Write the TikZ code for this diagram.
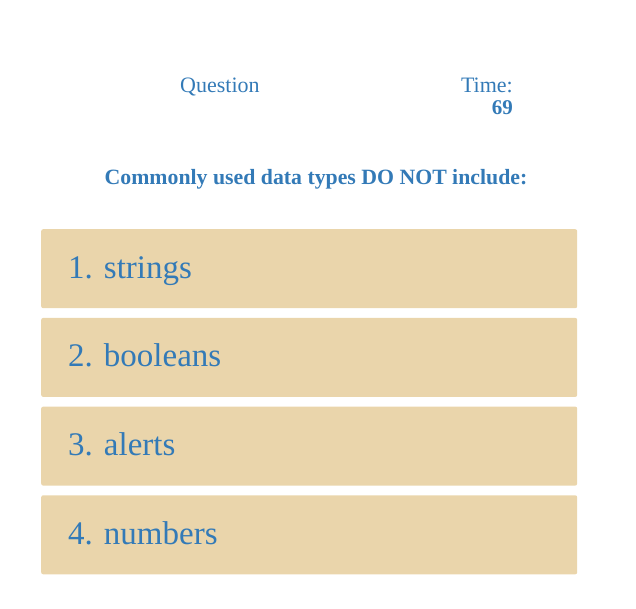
\documentclass[tikz,border=0pt]{standalone}
\usepackage{fontspec}
\setmainfont{Liberation Serif}
\definecolor{QuizBlue}{RGB}{51, 122, 183}
\definecolor{Wheat}{RGB}{234, 213, 171}
\usetikzlibrary{positioning}
\frenchspacing

\begin{document}
\begin{tikzpicture}[
            x=1pt, y=-1pt,
            node distance=9.3pt,
            head/.style={inner sep=0pt, text=QuizBlue, font=\fontsize{22}{26}\selectfont},
            prompt/.style={inner sep=0pt, text=QuizBlue, font=\fontsize{21.8}{26}\selectfont\bfseries},
            answer/.style={rectangle, rounded corners=2pt, fill=Wheat, inner xsep=27pt, inner ysep=0pt,
                           text width=482pt, minimum height=79pt, text height=25pt, text depth=6pt,
                           align=left, text=QuizBlue, font=\fontsize{33}{38}\selectfont}
        ]
            \useasboundingbox (0,0) rectangle (636,608);

            \node[head, anchor=base west] (question) at (180,92) {Question};
            \node[head, anchor=base east] (time) at (513,92) {Time:};
            \node[head, font=\fontsize{21}{25}\selectfont\bfseries, anchor=base east] (clock) at (513,114) {69};
            \node[prompt, anchor=base] (ask) at (316,184) {Commonly used data types DO NOT include:};

            \node[answer, anchor=north west] (ans1) at (41,229) {1. strings};
            \node[answer, below=of ans1] (ans2) {2. booleans};
            \node[answer, below=of ans2] (ans3) {3. alerts};
            \node[answer, below=of ans3] (ans4) {4. numbers};
        \end{tikzpicture}
\end{document}
